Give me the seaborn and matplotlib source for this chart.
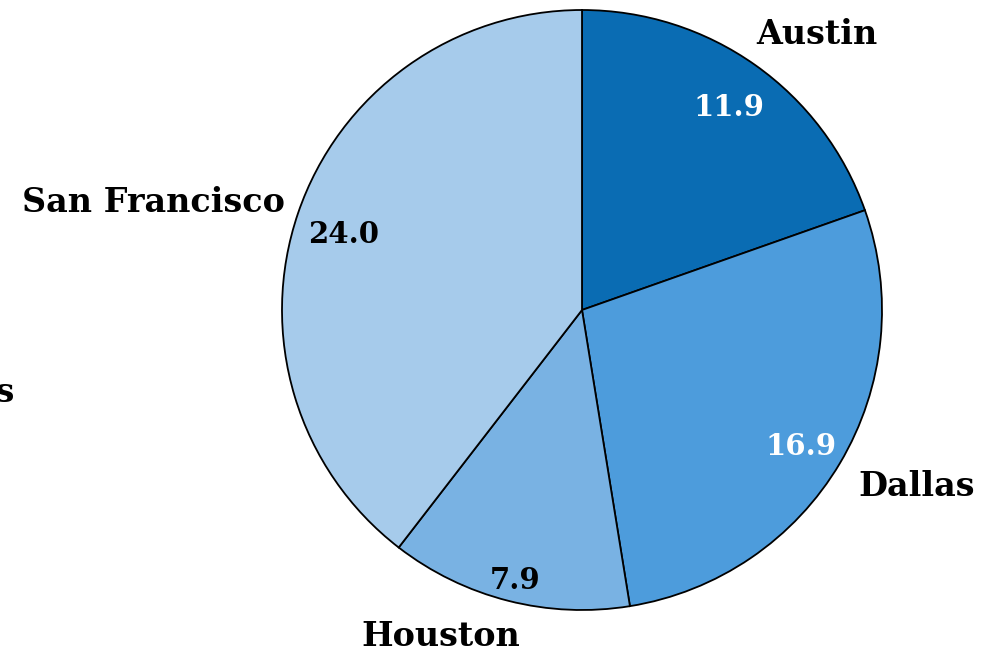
import matplotlib
matplotlib.use("Agg")
import matplotlib.pyplot as plt
import seaborn as sns
import numpy as np

# data
cities = ["Austin", "Dallas", "Houston", "San Francisco"]
values = [11.9, 16.9, 7.9, 24.0]
colors = ["#0a6cb3", "#4d9cdc", "#79b2e3", "#a6cbeb"]
pct_colors = ["white", "white", "black", "black"]

sns.set_style("white")
plt.rcParams['font.family'] = ['DejaVu Serif']
plt.rcParams['font.weight'] = 'bold'
plt.rcParams['text.color'] = 'black'

fig = plt.figure(figsize=(9.88, 6.54), dpi=100)
# pie centre at (582, 310) px, radius 300 px, limits +-1.01
ax = fig.add_axes([279 / 988, 41 / 654, 606 / 988, 606 / 654])

total = sum(values)
wedges, texts, autotexts = ax.pie(
    values,
    labels=cities,
    colors=colors,
    startangle=90,
    counterclock=False,
    autopct=lambda p: f"{p * total / 100:.1f}",
    pctdistance=0.85,
    labeldistance=1.1,
    wedgeprops=dict(edgecolor="black", linewidth=1.3),
    textprops=dict(fontsize=24, fontweight="bold", color="black"),
)

# label placement tweaks (ha, x, y in data units)
label_pos = [("left", 0.58, 0.92), ("left", 0.92, -0.59),
             ("center", -0.47, -1.09), ("right", -0.99, 0.36)]
for t, (ha, x, y) in zip(texts, label_pos):
    t.set_ha(ha)
    t.set_position((x, y))

# value labels; a bit further out for the small Houston slice
pct_dist = [0.85, 0.85, 0.91, 0.84]
for t, c, w, d in zip(autotexts, pct_colors, wedges, pct_dist):
    mid = np.deg2rad((w.theta1 + w.theta2) / 2)
    t.set_position((d * np.cos(mid), d * np.sin(mid) - 0.02))
    t.set_color(c)
    t.set_fontsize(21)

ax.set_xlim(-1.01, 1.01)
ax.set_ylim(-1.01, 1.01)
ax.set_aspect("equal")

# axis label sitting mostly off the left edge
fig.text(15 / 988, 1 - 393 / 654, "Cities", ha="right", va="center",
         fontsize=24, fontweight="bold")

plt.savefig("out.png", dpi=100)
